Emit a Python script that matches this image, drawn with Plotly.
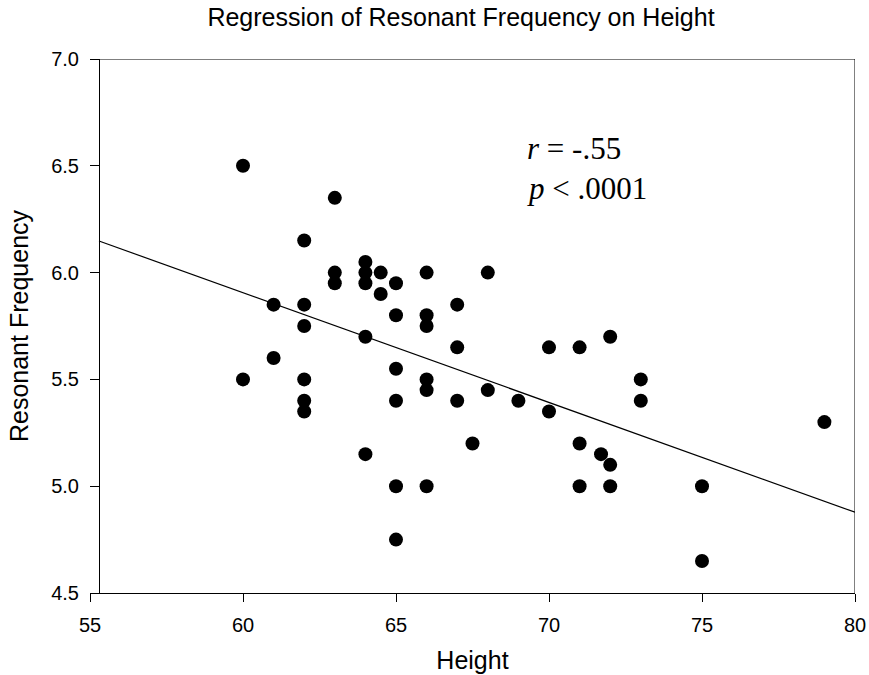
import plotly.graph_objects as go

# Data
height = [60, 60, 61, 61,
          62, 62, 62, 62, 62, 62,
          63, 63, 63,
          64, 64, 64, 64, 64,
          64.5, 64.5,
          65, 65, 65, 65, 65, 65,
          66, 66, 66, 66, 66, 66,
          67, 67, 67,
          67.5,
          68, 68,
          69,
          70, 70,
          71, 71, 71,
          71.7,
          72, 72, 72,
          73, 73,
          75, 75,
          79]
freq = [6.5, 5.5, 5.85, 5.6,
        6.15, 5.85, 5.75, 5.5, 5.4, 5.35,
        6.35, 6.0, 5.95,
        6.05, 6.0, 5.95, 5.7, 5.15,
        6.0, 5.9,
        5.95, 5.8, 5.55, 5.4, 5.0, 4.75,
        6.0, 5.8, 5.75, 5.5, 5.45, 5.0,
        5.85, 5.65, 5.4,
        5.2,
        6.0, 5.45,
        5.4,
        5.65, 5.35,
        5.65, 5.2, 5.0,
        5.15,
        5.7, 5.1, 5.0,
        5.5, 5.4,
        5.0, 4.65,
        5.3]

fit_intercept_at_55 = 6.163
fit_slope = -0.0514

x_ticks = [55, 60, 65, 70, 75, 80]
y_ticks = [4.5, 5.0, 5.5, 6.0, 6.5, 7.0]

W, H = 869, 675
ML, MR, MT, MB = 90, 14, 59, 82
plot_w = W - ML - MR
yaxis_pos = 9 / plot_w
x_left_frame = 55 + yaxis_pos * 25

fit_x = [x_left_frame, 80]
fit_y = [fit_intercept_at_55 + fit_slope * (x - 55) for x in fit_x]

SANS = "Liberation Sans, Arial, sans-serif"
SERIF = "Liberation Serif, Times New Roman, serif"

fig = go.Figure()
fig.add_trace(go.Scatter(x=fit_x, y=fit_y, mode="lines",
                         line=dict(color="black", width=1.2),
                         showlegend=False, hoverinfo="skip"))
fig.add_trace(go.Scatter(x=height, y=freq, mode="markers",
                         marker=dict(color="black", size=14),
                         showlegend=False))

fig.update_layout(
    width=W, height=H,
    margin=dict(l=ML, r=MR, t=MT, b=MB, autoexpand=False),
    paper_bgcolor="white", plot_bgcolor="white",
    font=dict(family=SANS, color="black", size=20),
    title=dict(text="Regression of Resonant Frequency on Height",
               x=461 / W, xanchor="center", xref="container",
               y=1 - 17 / H, yanchor="middle", yref="container",
               font=dict(size=25)),
    xaxis=dict(range=[55, 80], tickvals=x_ticks, ticktext=[str(v) for v in x_ticks],
               showline=True, linecolor="black", linewidth=1,
               ticks="outside", ticklen=8, tickcolor="black", tickwidth=1,
               ticklabelstandoff=6, automargin=False,
               showgrid=False, zeroline=False,
               tickfont=dict(size=20),
               title=dict(text="Height", font=dict(size=25), standoff=16)),
    yaxis=dict(range=[4.5, 7.0], tickvals=y_ticks, ticktext=[f"{v:.1f}" for v in y_ticks],
               anchor="free", position=yaxis_pos,
               showline=True, linecolor="black", linewidth=1,
               ticks="outside", ticklen=9, tickcolor="black", tickwidth=1,
               ticklabelstandoff=7, automargin=False,
               showgrid=False, zeroline=False,
               tickfont=dict(size=20),
               title=dict(text="Resonant Frequency", font=dict(size=25), standoff=14)),
    shapes=[
        dict(type="line", xref="x", yref="y", x0=x_left_frame, x1=80, y0=7.0, y1=7.0,
             line=dict(color="black", width=1)),
        dict(type="line", xref="x", yref="y", x0=80, x1=80, y0=4.5, y1=7.0,
             line=dict(color="black", width=1)),
    ],
    annotations=[
        dict(x=69.22, y=6.58, xref="x", yref="y", xanchor="left", yanchor="middle",
             text="<i>r</i> = -.55", showarrow=False,
             font=dict(family=SERIF, size=31)),
        dict(x=69.22, y=6.395, xref="x", yref="y", xanchor="left", yanchor="middle",
             text="<i>p</i> < .0001", showarrow=False,
             font=dict(family=SERIF, size=31)),
    ],
)

fig.write_html("out.html", config={"displayModeBar": False},
               post_script="document.body.style.margin='0px';")
